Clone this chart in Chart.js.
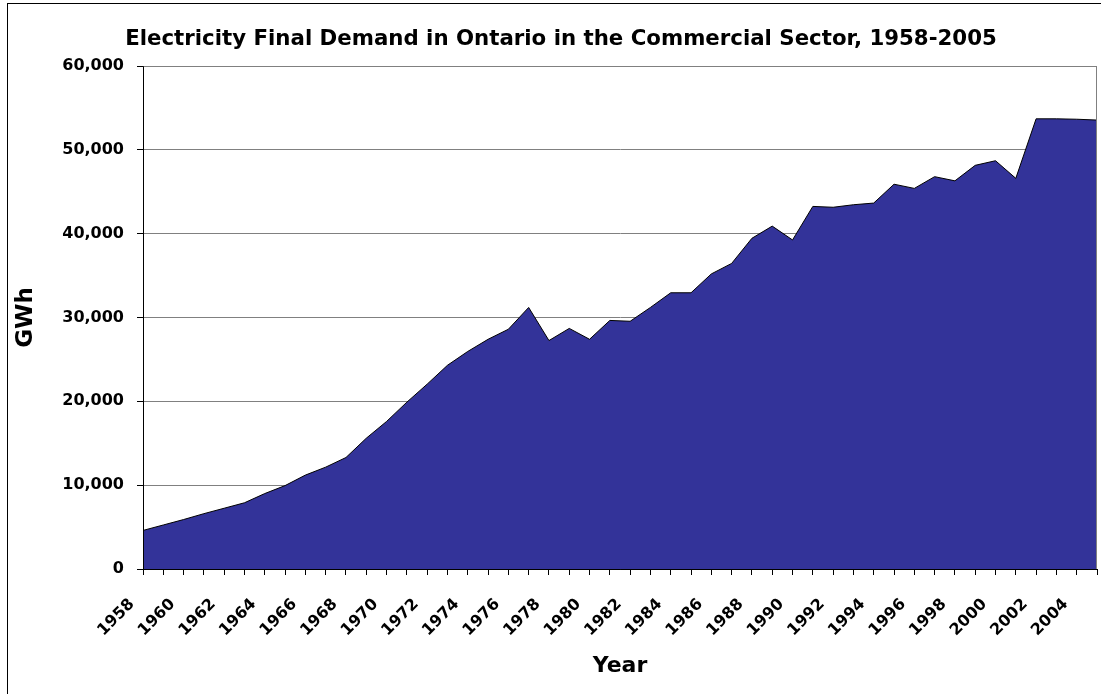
<!DOCTYPE html>
<html>
<head>
<meta charset="utf-8">
<script src="https://cdn.jsdelivr.net/npm/chart.js@4.4.1/dist/chart.umd.min.js"></script>
<style>
  html, body { margin: 0; padding: 0; background: #ffffff; }
  #wrap { width: 1101px; height: 694px; position: relative; }
</style>
</head>
<body>
<div id="wrap"><canvas id="c" width="1101" height="694"></canvas></div>
<script>
// ---- Data ----
const years = ["1958","1959","1960","1961","1962","1963","1964","1965","1966","1967",
  "1968","1969","1970","1971","1972","1973","1974","1975","1976","1977",
  "1978","1979","1980","1981","1982","1983","1984","1985","1986","1987",
  "1988","1989","1990","1991","1992","1993","1994","1995","1996","1997",
  "1998","1999","2000","2001","2002","2003","2004","2005"];
const demandGWh = [4600,5250,5900,6600,7250,7900,9000,9950,11200,12150,
  13300,15600,17600,19900,22050,24300,25950,27400,28600,31200,
  27250,28700,27400,29650,29550,31200,32950,32950,35200,36450,
  39450,40900,39250,43250,43150,43450,43650,45900,45400,46800,
  46300,48150,48700,46600,53700,53700,53650,53550];
const yTicks = [0,10000,20000,30000,40000,50000,60000];
const chartTitle = "Electricity Final Demand in Ontario in the Commercial Sector, 1958-2005";
const xTitle = "Year";
const yTitle = "GWh";

const FONT = "'DejaVu Sans', 'Liberation Sans', Arial, sans-serif";

const framePlugin = {
  id: 'frame',
  beforeDraw(chart) {
    const ctx = chart.ctx;
    ctx.save();
    ctx.fillStyle = '#ffffff';
    ctx.fillRect(0, 0, chart.width, chart.height);
    ctx.strokeStyle = '#000000';
    ctx.lineWidth = 1;
    ctx.strokeRect(7.5, 3.5, 1200, 800);
    ctx.restore();
  },
  afterDatasetsDraw(chart) {
    const {ctx, chartArea: a} = chart;
    ctx.save();
    ctx.lineWidth = 1;
    ctx.strokeStyle = '#808080';
    ctx.beginPath();
    ctx.moveTo(Math.round(a.left) + 0.5, Math.round(a.top) + 0.5);
    ctx.lineTo(Math.round(a.right) - 0.5, Math.round(a.top) + 0.5);
    ctx.lineTo(Math.round(a.right) - 0.5, Math.round(a.bottom) + 0.5);
    ctx.stroke();
    ctx.strokeStyle = '#000000';
    ctx.beginPath();
    ctx.moveTo(Math.round(a.left) + 0.5, Math.round(a.top) + 0.5);
    ctx.lineTo(Math.round(a.left) + 0.5, Math.round(a.bottom) + 0.5);
    ctx.lineTo(Math.round(a.right), Math.round(a.bottom) + 0.5);
    ctx.stroke();
    ctx.restore();
  },
  afterDraw(chart) {
    const ctx = chart.ctx;
    ctx.save();
    ctx.fillStyle = '#000000';
    ctx.font = "bold 21.3px " + FONT;
    ctx.textAlign = 'center';
    ctx.textBaseline = 'alphabetic';
    ctx.fillText(chartTitle, 561, 45);
    ctx.restore();
  }
};

new Chart(document.getElementById('c'), {
  type: 'line',
  data: {
    labels: years,
    datasets: [{
      label: 'Commercial electricity demand (GWh)',
      data: demandGWh,
      fill: 'origin',
      backgroundColor: '#333399',
      borderColor: '#000000',
      borderWidth: 1,
      pointRadius: 0,
      pointHoverRadius: 0,
      tension: 0
    }]
  },
  options: {
    responsive: false,
    animation: false,
    devicePixelRatio: 1,
    layout: { padding: { left: 0, right: 4, top: 66, bottom: 0 } },
    plugins: {
      legend: { display: false },
      title: { display: false },
      tooltip: { enabled: false }
    },
    scales: {
      x: {
        type: 'category',
        offset: false,
        grid: { drawOnChartArea: false, drawTicks: true, tickLength: 6, tickColor: '#000000', offset: false },
        border: { display: true, color: '#000000', width: 1 },
        ticks: {
          autoSkip: false,
          minRotation: 45,
          maxRotation: 45,
          padding: 20,
          labelOffset: -11,
          color: '#000000',
          font: { family: FONT, size: 16, weight: 'bold' },
          callback: function(value, index) { return index % 2 === 0 ? years[index] : ''; }
        },
        title: {
          display: true,
          text: xTitle,
          color: '#000000',
          font: { family: FONT, size: 22, weight: 'bold' },
          padding: { top: 0, bottom: 15 }
        },
        afterFit(scale) { scale.height = 125; scale.paddingRight = 0; scale.paddingLeft = 0; }
      },
      y: {
        min: 0,
        max: 60000,
        afterBuildTicks(scale) { scale.ticks = yTicks.map(v => ({ value: v })); },
        grid: { color: '#808080', lineWidth: 1, drawTicks: true, tickLength: 6, tickColor: '#000000' },
        border: { display: true, color: '#000000', width: 1 },
        ticks: {
          padding: 13,
          color: '#000000',
          font: { family: FONT, size: 16, weight: 'bold' },
          callback: function(value) { return value.toLocaleString('en-US'); }
        },
        title: {
          display: true,
          text: yTitle,
          color: '#000000',
          font: { family: FONT, size: 23, weight: 'bold' },
          padding: { top: 12, bottom: 0 }
        },
        afterFit(scale) { scale.width = 143; }
      }
    }
  },
  plugins: [framePlugin]
});
</script>
</body>
</html>
